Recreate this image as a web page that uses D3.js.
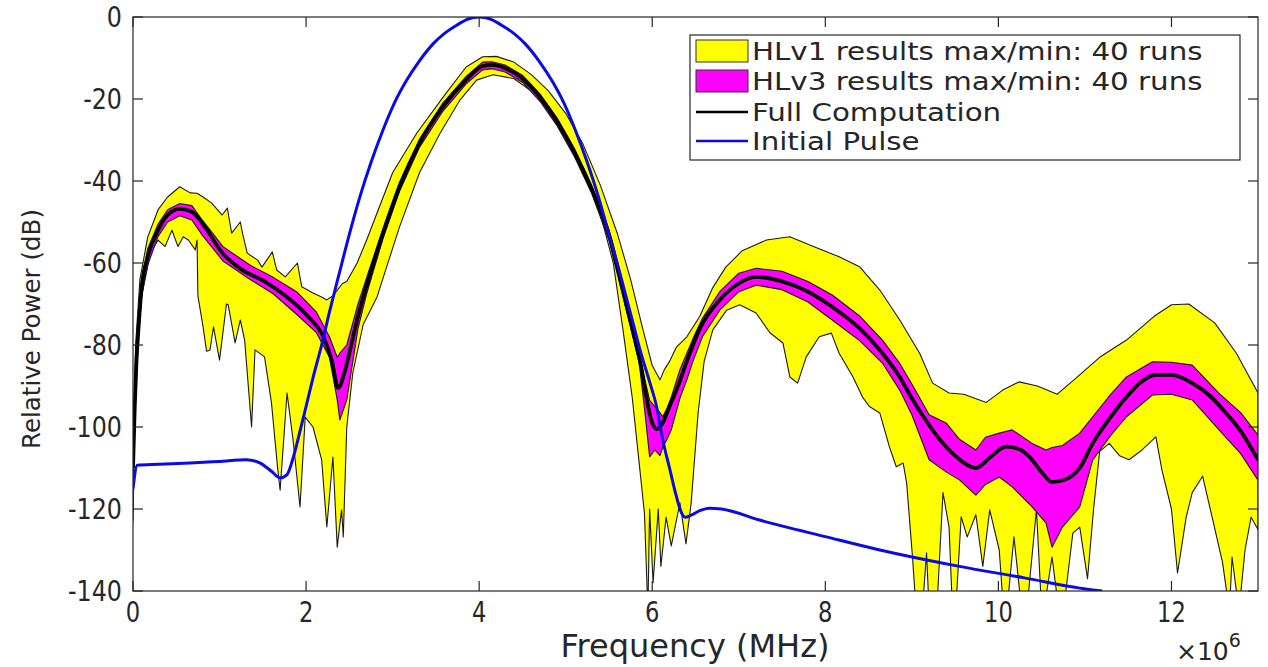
<!DOCTYPE html>
<html>
<head>
<meta charset="utf-8">
<script src="https://cdn.jsdelivr.net/npm/d3@7"></script>
<style>
  body { margin: 0; background: #fff; }
  svg text { font-family: "DejaVu Sans", sans-serif; fill: #262626; }
</style>
</head>
<body>
<svg id="chart" width="1268" height="667"></svg>
<script>
// ---- axis ticks (frequency shown in units of 10^6 Hz) ----
const xTickValues = [0, 2, 4, 6, 8, 10, 12];
const xTickLabels = ["0", "2", "4", "6", "8", "10", "12"];
const yTickValues = [0, -20, -40, -60, -80, -100, -120, -140];
const yTickLabels = ["0", "-20", "-40", "-60", "-80", "-100", "-120", "-140"];

const legendLabels = [
  "HLv1 results max/min: 40 runs",
  "HLv3 results max/min: 40 runs",
  "Full Computation",
  "Initial Pulse"
];

// ---- Initial Pulse spectrum ----
const pulseFreq = [0, 0.05, 0.3, 0.66, 1.0, 1.31, 1.47, 1.6, 1.7, 1.78, 1.86, 1.93, 2.0, 2.08, 2.18, 2.27, 2.39, 2.5, 2.62, 2.75, 2.89, 3.02, 3.16, 3.3, 3.47, 3.6, 3.74, 3.87, 4.0,
  4.13, 4.26, 4.4, 4.53, 4.7, 4.84, 4.98, 5.11, 5.25, 5.38, 5.5, 5.62, 5.77, 5.87, 5.97, 6.05, 6.12, 6.2, 6.28, 6.33, 6.38, 6.45, 6.55, 6.66, 6.8, 7.24, 8.01, 8.63, 9.55, 10.3, 10.94, 11.2];
const pulseDb = [-115, -109.3, -109.1, -108.8, -108.4, -108, -108.8, -110.8, -112.4, -111.6, -106.8, -101, -95, -88, -80, -72, -62, -53, -44, -35.5, -27.5, -21, -15.5, -11, -6.5, -4, -2, -0.5, 0,
  -0.5, -2, -4, -6.5, -11, -15.5, -21, -27.5, -35.5, -44, -53, -62, -74, -82, -89, -95, -103, -110, -117, -120.5, -122, -121.5, -120.4, -119.8, -120, -122.7, -126.8, -130, -134, -136.8, -139.3, -140];

// ---- Full Computation ----
const fullFreq = [0, 0.02, 0.04, 0.06, 0.1, 0.17, 0.29, 0.4, 0.54, 0.68, 0.83, 1.03, 1.25, 1.52, 1.76, 2.02, 2.2, 2.3, 2.37, 2.44, 2.5, 2.6, 2.7, 2.89, 3.08, 3.31, 3.58, 3.85, 4.04, 4.15, 4.3, 4.5, 4.7, 4.9, 5.1, 5.3, 5.5, 5.7, 5.85, 6.0, 6.05, 6.12, 6.2, 6.28, 6.4, 6.55, 6.78, 7.0, 7.2, 7.5, 7.8, 8.08, 8.4, 8.66, 8.86, 9.0, 9.15, 9.32, 9.5, 9.74, 9.9, 10.09, 10.25, 10.36, 10.5, 10.62, 10.75, 10.94, 11.09, 11.3, 11.48, 11.65, 11.82, 12.0, 12.24, 12.45, 12.63, 12.8, 13.0];
const fullDb = [-110, -95, -84, -77, -66, -58.5, -52, -48.3, -46.8, -47.5, -51.2, -57.5, -61.5, -64.5, -68, -73, -78, -84, -90.5, -87, -82, -73, -65.5, -52.7, -41.4, -30.8, -21.9, -15.4, -12, -11.7, -12.5, -15, -19.5, -25.5, -33, -42, -53, -70, -83, -99, -100.5, -99, -95, -91, -84, -76, -69, -65, -63.4, -64.5, -67, -70.7, -76, -82, -87.8, -93, -98, -103, -107, -110, -107.5, -104.8, -105.5, -107.3, -111, -113.4, -113, -110, -104, -97.5, -92.7, -89, -87.3, -87.3, -89.3, -92.5, -96.6, -101, -108];

// ---- HLv1 max / min over 40 runs ----
const hlv1MaxFreq = [0, 0.03, 0.08, 0.17, 0.29, 0.4, 0.54, 0.66, 0.74, 0.81, 0.91, 1.03, 1.09, 1.14, 1.24, 1.27, 1.32, 1.44, 1.49, 1.61, 1.66, 1.76, 1.9, 1.95, 2.08, 2.18, 2.24, 2.31, 2.42, 2.47, 2.59, 2.7, 2.82, 3.0, 3.28, 3.62, 3.85, 4.04, 4.2, 4.4, 4.6, 4.8, 5.0, 5.2, 5.4, 5.6, 5.75, 5.89, 6.0, 6.09, 6.14, 6.2, 6.28, 6.4, 6.55, 6.7, 6.85, 7.04, 7.32, 7.59, 7.82, 8.16, 8.4, 8.63, 8.86, 9.09, 9.24, 9.43, 9.6, 9.86, 10.05, 10.24, 10.45, 10.68, 10.9, 11.17, 11.48, 11.8, 12.0, 12.2, 12.5, 12.75, 13.0];
const hlv1Max = [-108, -80, -64, -53.7, -47, -43.9, -41.4, -42.9, -43, -43.9, -45.4, -48.3, -46.6, -52.7, -50, -53.2, -57.6, -59.3, -61, -57.3, -61.7, -63.4, -60, -65.8, -67.3, -68.3, -69, -68, -65, -64.5, -60, -54.4, -47.8, -38, -28.3, -18.5, -12.2, -9.7, -9.6, -11, -14, -18, -23.5, -31, -41, -53, -64, -76, -85, -88.5, -86, -84, -80.5, -78, -73, -66, -61, -57, -54.4, -53.6, -55.6, -58.5, -61, -66.6, -73.9, -82, -89.3, -91.7, -92, -94, -91, -89, -90, -92, -88, -83, -78.8, -73, -70.2, -70, -74.6, -82, -91.7];
const hlv1MinFreq = [0, 0.02, 0.05, 0.1, 0.2, 0.29, 0.37, 0.45, 0.52, 0.58, 0.64, 0.72, 0.74, 0.75, 0.81, 0.85, 0.89, 0.93, 1.0, 1.08, 1.1, 1.18, 1.24, 1.29, 1.37, 1.41, 1.52, 1.6, 1.67, 1.7, 1.78, 1.85, 1.93, 1.99, 2.08, 2.18, 2.24, 2.31, 2.36, 2.41, 2.43, 2.47, 2.54, 2.66, 2.82, 2.93, 3.08, 3.31, 3.55, 3.78, 3.97, 4.16, 4.4, 4.6, 4.8, 5.0, 5.2, 5.4, 5.55, 5.66, 5.77, 5.85, 5.91, 5.95, 5.97, 6.01, 6.07, 6.1, 6.16, 6.22, 6.32, 6.39, 6.45, 6.53, 6.6, 6.7, 6.86, 7.01, 7.2, 7.36, 7.51, 7.59, 7.68, 7.78, 7.93, 8.07, 8.16, 8.32, 8.43, 8.51, 8.63, 8.74, 8.82, 8.9, 8.94, 9.01, 9.05, 9.12, 9.17, 9.2, 9.3, 9.36, 9.43, 9.47, 9.52, 9.57, 9.64, 9.74, 9.82, 9.9, 10.01, 10.06, 10.12, 10.18, 10.27, 10.35, 10.44, 10.5, 10.56, 10.62, 10.7, 10.78, 10.86, 10.94, 11.03, 11.1, 11.17, 11.28, 11.4, 11.51, 11.66, 11.82, 11.89, 12.0, 12.07, 12.17, 12.24, 12.36, 12.47, 12.59, 12.67, 12.7, 12.78, 12.85, 12.92, 13.0];
const hlv1Min = [-123, -100, -80, -68, -57.6, -54.4, -56, -52, -56, -53.6, -54.4, -56.8, -54.4, -68, -75.6, -81.5, -81.2, -75.6, -83.7, -70, -70.2, -79.5, -73.9, -78.8, -100, -81.2, -82.9, -94.1, -109.8, -115.4, -91.7, -103.2, -119.5, -97.6, -100, -108, -124.4, -107.3, -129.3, -120.2, -126.8, -100, -86.8, -75, -68.3, -61, -51.2, -38, -28.3, -20.2, -15.4, -14.1, -15, -18, -22.5, -29, -37, -48, -60, -76, -93, -109, -121, -145, -120, -138, -120, -134, -122, -129, -118.5, -128.5, -118.5, -96.6, -84, -76.3, -71.5, -70.2, -72.2, -77, -79.5, -87.8, -89.3, -82.9, -78, -77.1, -82, -87.8, -92.7, -95, -96.6, -104.8, -109.7, -108.8, -113.7, -132.4, -145, -145, -130.7, -145, -140, -116, -124.4, -145, -140, -121.9, -126.8, -121.4, -134, -120.2, -130, -145, -140, -126.8, -145, -140, -120.2, -145, -140, -131.7, -145, -140, -125.9, -124.4, -137, -120, -106, -104, -107, -108, -105.6, -102.4, -110.5, -120, -135.6, -122, -116, -112, -122, -133, -145, -131.7, -145, -130, -122, -125];

// ---- HLv3 max / min over 40 runs ----
const hlv3Freq = [0, 0.03, 0.06, 0.1, 0.17, 0.29, 0.4, 0.54, 0.68, 0.8, 1.04, 1.35, 1.62, 1.89, 2.12, 2.27, 2.36, 2.39, 2.47, 2.6, 2.7, 2.89, 3.08, 3.31, 3.58, 3.85, 4.04, 4.15, 4.3, 4.5, 4.7, 4.9, 5.1, 5.3, 5.5, 5.7, 5.85, 5.91, 5.97, 6.03, 6.09, 6.12, 6.17, 6.22, 6.32, 6.4, 6.47, 6.58, 6.78, 7.0, 7.2, 7.5, 7.8, 8.08, 8.4, 8.66, 8.86, 9.0, 9.2, 9.4, 9.55, 9.74, 9.85, 10.01, 10.16, 10.39, 10.55, 10.62, 10.74, 10.94, 11.09, 11.3, 11.48, 11.78, 12.0, 12.24, 12.55, 12.8, 13.0];
const hlv3Max = [-108, -85, -75, -64, -56.5, -50.5, -47, -45.5, -46, -49.5, -56, -60.5, -63.5, -67, -72, -78, -83, -82, -80, -70, -63.5, -51.5, -40.3, -29.8, -21, -14.5, -11, -10.9, -11.7, -14.2, -18.7, -24.6, -32, -41, -52, -69, -82, -88, -93.5, -95, -96.5, -97.5, -95.5, -92.7, -86, -82, -78.5, -73.5, -67, -62.5, -61.3, -62, -64.5, -67.8, -73, -78.8, -84.5, -89.5, -97, -99.1, -103, -105.6, -102.5, -101.5, -100.7, -104, -105.6, -105, -104.5, -101.5, -97.5, -92, -87.8, -84.1, -84.2, -84.9, -91.8, -96.5, -102];
const hlv3Min = [-112, -92, -80, -68, -60.5, -53.5, -50, -48.5, -49.5, -53.2, -59.5, -64, -67.5, -72.5, -77, -83, -93.4, -98.3, -93.4, -76, -67.5, -54, -42.5, -31.8, -23, -16.3, -12.9, -12.6, -13.4, -15.9, -20.5, -26.5, -34, -43, -54.5, -71.5, -84.5, -95.4, -107.3, -105.6, -107, -105, -103, -100.7, -93, -88.5, -84, -78, -71.5, -67, -65.4, -66.5, -69.5, -73.9, -79, -84.4, -91, -97, -108, -111, -112.9, -116.6, -114, -112.2, -114.6, -119.5, -123.4, -129.3, -124.4, -119.5, -108, -102, -97.5, -92.2, -92, -93.4, -100.7, -106.5, -113];

// ---- layout ----
const plot = { left: 133, right: 1258, top: 17, bottom: 591 };
const svg = d3.select("#chart");

const x = d3.scaleLinear().domain([0, 13]).range([plot.left, plot.right]);
const y = d3.scaleLinear().domain([-140, 0]).range([plot.bottom, plot.top]);

svg.append("defs").append("clipPath").attr("id", "plotClip")
  .append("rect")
  .attr("x", plot.left).attr("y", plot.top)
  .attr("width", plot.right - plot.left).attr("height", plot.bottom - plot.top);

const g = svg.append("g").attr("clip-path", "url(#plotClip)");

const pairs = (fs, vs) => fs.map((f, i) => [f, vs[i]]);
const polyLine = d3.line().x(d => x(d[0])).y(d => y(d[1]));
const smoothLine = d3.line().x(d => x(d[0])).y(d => y(d[1])).curve(d3.curveMonotoneX);

// band polygon: max curve forward, min curve backward
function band(maxPts, minPts) {
  return polyLine(maxPts.concat(minPts.slice().reverse())) + "Z";
}

g.append("path")
  .attr("d", band(pairs(hlv1MaxFreq, hlv1Max), pairs(hlv1MinFreq, hlv1Min)))
  .attr("fill", "#ffff00").attr("stroke", "#1a1a1a").attr("stroke-width", 1.1)
  .attr("stroke-linejoin", "round");

g.append("path")
  .attr("d", band(pairs(hlv3Freq, hlv3Max), pairs(hlv3Freq, hlv3Min)))
  .attr("fill", "#ff00ff").attr("stroke", "#1a1a1a").attr("stroke-width", 1.1)
  .attr("stroke-linejoin", "round");

g.append("path")
  .attr("d", smoothLine(pairs(fullFreq, fullDb)))
  .attr("fill", "none").attr("stroke", "#000").attr("stroke-width", 3.8)
  .attr("stroke-linejoin", "round");

g.append("path")
  .attr("d", smoothLine(pairs(pulseFreq, pulseDb)))
  .attr("fill", "none").attr("stroke", "#0a0ae6").attr("stroke-width", 3)
  .attr("stroke-linejoin", "round");

// ---- axes box with inward ticks ----
const axisColor = "#262626";
const tickLen = 10;
const axes = svg.append("g");

axes.append("rect")
  .attr("x", plot.left).attr("y", plot.top)
  .attr("width", plot.right - plot.left).attr("height", plot.bottom - plot.top)
  .attr("fill", "none").attr("stroke", axisColor).attr("stroke-width", 1.2);

xTickValues.forEach((v, i) => {
  const px = x(v);
  axes.append("line").attr("x1", px).attr("x2", px)
    .attr("y1", plot.bottom).attr("y2", plot.bottom - tickLen)
    .attr("stroke", axisColor).attr("stroke-width", 1.2);
  axes.append("line").attr("x1", px).attr("x2", px)
    .attr("y1", plot.top).attr("y2", plot.top + tickLen)
    .attr("stroke", axisColor).attr("stroke-width", 1.2);
  axes.append("text")
    .attr("transform", `translate(${px},${plot.bottom + 31}) scale(0.78,1)`)
    .attr("text-anchor", "middle")
    .attr("font-size", 29)
    .text(xTickLabels[i]);
});

yTickValues.forEach((v, i) => {
  const py = y(v);
  axes.append("line").attr("x1", plot.left).attr("x2", plot.left + tickLen)
    .attr("y1", py).attr("y2", py)
    .attr("stroke", axisColor).attr("stroke-width", 1.2);
  axes.append("line").attr("x1", plot.right).attr("x2", plot.right - tickLen)
    .attr("y1", py).attr("y2", py)
    .attr("stroke", axisColor).attr("stroke-width", 1.2);
  axes.append("text")
    .attr("transform", `translate(${plot.left - 11},${py + 10}) scale(0.85,1)`)
    .attr("text-anchor", "end")
    .attr("font-size", 28)
    .text(yTickLabels[i]);
});

// axis titles
svg.append("text")
  .attr("x", 695).attr("y", 657)
  .attr("text-anchor", "middle").attr("font-size", 32)
  .text("Frequency (MHz)");

svg.append("text")
  .attr("transform", `translate(40,329) rotate(-90)`)
  .attr("text-anchor", "middle").attr("font-size", 24.5)
  .text("Relative Power (dB)");

const expo = svg.append("text").attr("x", 1176).attr("y", 660).attr("font-size", 25).attr("fill", "#444");
expo.append("tspan").text("\u00d710");
expo.append("tspan").attr("dy", -13).attr("font-size", 19).text("6");

// ---- legend ----
const legend = svg.append("g");
const lg = { x: 690, y: 35, w: 550, h: 125 };
legend.append("rect")
  .attr("x", lg.x).attr("y", lg.y).attr("width", lg.w).attr("height", lg.h)
  .attr("fill", "#fff").attr("stroke", axisColor).attr("stroke-width", 1.2);

const rowY = [51, 81, 112, 141];
const swatch = { x0: 696, x1: 748 };

legend.append("rect").attr("x", swatch.x0).attr("y", rowY[0] - 11)
  .attr("width", swatch.x1 - swatch.x0).attr("height", 22)
  .attr("fill", "#ffff00").attr("stroke", "#333").attr("stroke-width", 1);
legend.append("rect").attr("x", swatch.x0).attr("y", rowY[1] - 11)
  .attr("width", swatch.x1 - swatch.x0).attr("height", 22)
  .attr("fill", "#ff00ff").attr("stroke", "#333").attr("stroke-width", 1);
legend.append("line").attr("x1", swatch.x0).attr("x2", swatch.x1)
  .attr("y1", rowY[2]).attr("y2", rowY[2])
  .attr("stroke", "#000").attr("stroke-width", 2.5);
legend.append("line").attr("x1", swatch.x0).attr("x2", swatch.x1)
  .attr("y1", rowY[3]).attr("y2", rowY[3])
  .attr("stroke", "#0a0ae6").attr("stroke-width", 2.5);

// rows are tightly packed, so the labels use a slightly smaller size stretched horizontally
legendLabels.forEach((t, i) => {
  legend.append("text")
    .attr("transform", `translate(752,${rowY[i] + 9}) scale(1.15,1)`)
    .attr("font-size", 25.5)
    .attr("fill", "#111")
    .text(t);
});
</script>
</body>
</html>
